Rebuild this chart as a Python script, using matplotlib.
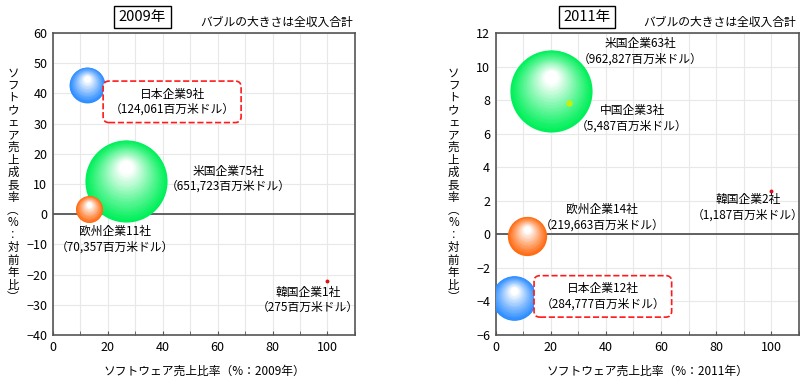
import numpy as np
import matplotlib
matplotlib.use("Agg")
import matplotlib.pyplot as plt
import matplotlib.transforms as mtransforms
from matplotlib.colors import to_rgb
from matplotlib.ticker import MultipleLocator

plt.rcParams['font.family'] = ['Noto Sans CJK JP', 'DejaVu Sans']
plt.rcParams['axes.unicode_minus'] = True

# 2009 data
names_2009 = ['日本企業9社', '米国企業75社', '欧州企業11社', '韓国企業1社']
revenue_2009 = [124061, 651723, 70357, 275]
share_2009 = [12.4, 26.6, 13.2, 100.0]
growth_2009 = [42.8, 11.0, 1.7, -22.0]
colors_2009 = ['#2b8cff', '#00f05a', '#ff6a10', '#e0101a']

# 2011 data
names_2011 = ['米国企業63社', '中国企業3社', '欧州企業14社', '韓国企業2社', '日本企業12社']
revenue_2011 = [962827, 5487, 219663, 1187, 284777]
share_2011 = [20.1, 26.7, 11.3, 100.0, 6.7]
growth_2011 = [8.56, 7.8, -0.1, 2.6, -3.8]
colors_2011 = ['#00f05a', '#c8f000', '#ff6a10', '#e0101a', '#2b8cff']

# label positions (data coords) and whether the label gets the red dashed box
label_pos_2009 = [(43.4, 37.2), (63.8, 11.7), (22.6, -8.2), (92.9, -28.4)]
boxed_2009 = [True, False, False, False]
label_pos_2011 = [(52.4, 10.9), (49.5, 6.9), (38.7, 1.0), (91.6, 1.6), (38.9, -3.7)]
boxed_2011 = [False, False, False, False, True]

S_MAX = 3500

fig = plt.figure(figsize=(8.1, 3.78), dpi=100)


def bubble(ax, x, y, s, color, z):
    # fake a shaded sphere with stacked circles fading to white
    base = np.array(to_rgb(color))
    r0 = np.sqrt(s) / 2.0
    n = 30 if s > 50 else 1
    for i in range(n):
        t = i / n
        size = s * (1 - t) ** 2
        dy = 0.4 * r0 * t
        c = base + (1 - base) * min(1.0, (t * 1.2) ** 1.1)
        off = mtransforms.ScaledTranslation(0, dy / 72.0, fig.dpi_scale_trans)
        ax.scatter([x], [y], s=[max(size, 8)], color=[c], linewidths=0,
                   transform=ax.transData + off, zorder=z + i * 0.001)


def panel(rect, names, revenue, share, growth, colors, label_pos, boxed,
          ylim, ystep, year, title_x):
    ax = fig.add_axes(rect)
    ax.set_xlim(0, 110)
    ax.set_ylim(*ylim)
    ax.xaxis.set_major_locator(MultipleLocator(20))
    ax.xaxis.set_minor_locator(MultipleLocator(10))
    ax.yaxis.set_major_locator(MultipleLocator(ystep))
    ax.grid(True, which='both', color='#e8e8e8', lw=0.8, zorder=0)
    ax.axhline(0, color='#555555', lw=1.3, zorder=2)
    for sp in ax.spines.values():
        sp.set_color('#555555')
        sp.set_linewidth(1.2)
    ax.tick_params(which='both', direction='in', length=3, color='#555555',
                   labelsize=9, pad=4)
    ax.tick_params(axis='y', length=0)

    mx = max(revenue)
    order = np.argsort(revenue)[::-1]
    for k, i in enumerate(order):
        s = S_MAX * revenue[i] / mx
        bubble(ax, share[i], growth[i], s, colors[i], 3 + k * 0.1)

    for i, name in enumerate(names):
        txt = f"{name}\n（{revenue[i]:,}百万米ドル）"
        bb = None
        if boxed[i]:
            bb = dict(boxstyle='round,pad=0.55,rounding_size=0.5', fc='white',
                      ec='#ff1a1a', ls='--', lw=1.2)
        ax.text(label_pos[i][0], label_pos[i][1], txt, ha='center', va='center',
                fontsize=8.5, linespacing=1.25, bbox=bb, zorder=5)

    ax.set_xlabel(f"ソフトウェア売上比率（%：{year}年）", fontsize=8.5, labelpad=8)
    fig.text(title_x, 0.955, f"{year}年", ha='center', va='center', fontsize=10.5,
             bbox=dict(boxstyle='square,pad=0.3', fc='white', ec='black', lw=1))
    fig.text(rect[0] + rect[2] - 0.003, 0.94, "バブルの大きさは全収入合計",
             ha='right', va='center', fontsize=8.5)
    return ax


ax1 = panel([0.0654, 0.1138, 0.3728, 0.799], names_2009, revenue_2009, share_2009,
            growth_2009, colors_2009, label_pos_2009, boxed_2009,
            (-40, 60), 10, 2009, 0.176)
ax2 = panel([0.612, 0.1138, 0.374, 0.799], names_2011, revenue_2011, share_2011,
            growth_2011, colors_2011, label_pos_2011, boxed_2011,
            (-6, 12), 2, 2011, 0.725)

ylab = "\n".join(list("ソフトウェア売上成長率") + ["︵", "%", "︰", "対", "前", "年", "比", "︶"])
for xx in (0.016, 0.56):
    fig.text(xx, 0.51, ylab, ha='center', va='center', fontsize=8.3, linespacing=0.95)

fig.savefig("out.png", dpi=100)
